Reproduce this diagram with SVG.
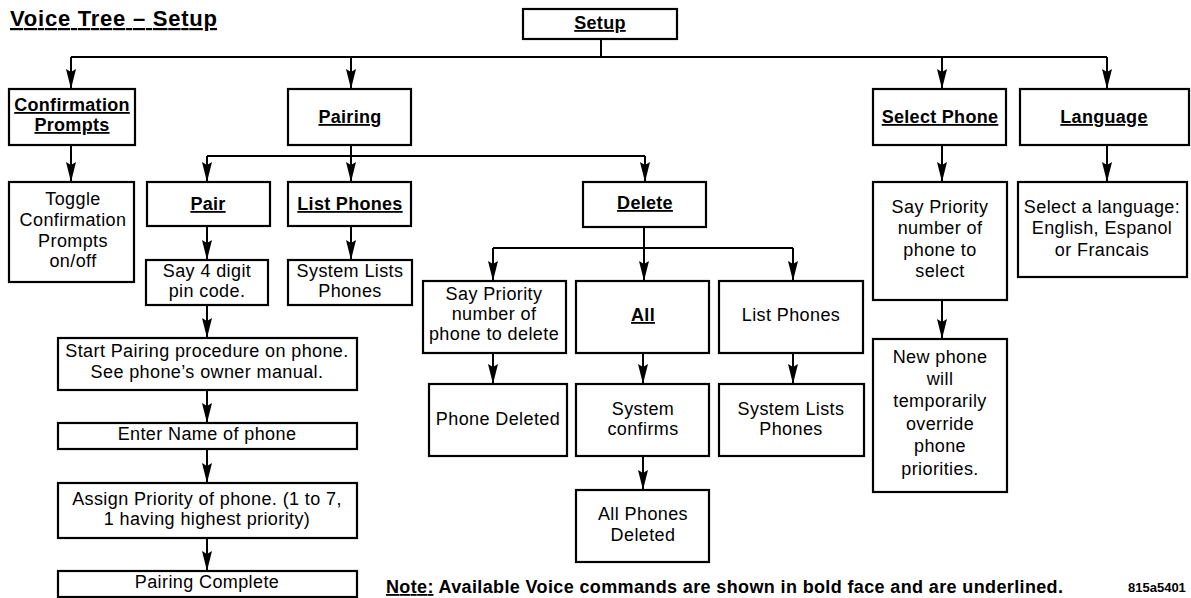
<svg xmlns="http://www.w3.org/2000/svg" width="1191" height="598" viewBox="0 0 1191 598">
<style>
.bx{fill:#fff;stroke:#000;stroke-width:2.2}
.t{font-family:"Liberation Sans",Arial,Helvetica,sans-serif;font-size:18px;letter-spacing:0.4px;fill:#000;text-anchor:middle}
.b{font-family:"Liberation Sans",Arial,Helvetica,sans-serif;font-size:18px;font-weight:bold;letter-spacing:0.3px;fill:#000;text-anchor:middle;text-decoration:underline}
.ln{fill:none;stroke:#000;stroke-width:2}
.ar{fill:none;stroke:#000;stroke-width:2;marker-end:url(#ah)}
</style>
<defs>
<marker id="ah" markerUnits="userSpaceOnUse" viewBox="0 0 20 10" refX="20" refY="5" markerWidth="20" markerHeight="10" orient="auto">
<path d="M0,0 L20,5 L0,10 L3,5 z" fill="#000"/>
</marker>
</defs>
<rect width="1191" height="598" fill="#fff"/>
<text x="10" y="26" font-family="Liberation Sans,Arial,sans-serif" font-size="22" font-weight="bold" text-decoration="underline" fill="#000" textLength="207" lengthAdjust="spacing">Voice Tree – Setup</text>

<g id="connectors">
<path class="ln" d="M601,39 V57 M71,57 H1107"/>
<path class="ar" d="M71,57 V89"/>
<path class="ar" d="M351,57 V89"/>
<path class="ar" d="M942,57 V89"/>
<path class="ar" d="M1107,57 V89"/>
<path class="ar" d="M71,145 V182"/>
<path class="ln" d="M351,145 V156 M207,156 H645"/>
<path class="ar" d="M207,156 V182"/>
<path class="ar" d="M351,156 V182"/>
<path class="ar" d="M645,156 V182"/>
<path class="ar" d="M942,145 V182"/>
<path class="ar" d="M1107,145 V182"/>
<path class="ar" d="M207,226 V260"/>
<path class="ar" d="M351,226 V260"/>
<path class="ar" d="M207,305 V338"/>
<path class="ar" d="M207,390 V423"/>
<path class="ar" d="M207,449 V483"/>
<path class="ar" d="M207,538 V571"/>
<path class="ln" d="M644,227 V248 M493,248 H793"/>
<path class="ar" d="M493,248 V281"/>
<path class="ar" d="M644,248 V281"/>
<path class="ar" d="M793,248 V281"/>
<path class="ar" d="M493,353 V384"/>
<path class="ar" d="M643,353 V384"/>
<path class="ar" d="M793,353 V384"/>
<path class="ar" d="M643,456 V490"/>
<path class="ar" d="M942,300 V339"/>
</g>

<g id="setup"><rect class="bx" x="523" y="9" width="154" height="30"/><text class="b" x="600" y="29">Setup</text></g>
<g id="confirmation"><rect class="bx" x="9" y="89" width="126" height="56"/><text class="b" x="72" y="111">Confirmation</text><text class="b" x="72" y="131">Prompts</text></g>
<g id="pairing"><rect class="bx" x="288" y="89" width="123" height="56"/><text class="b" x="350" y="123">Pairing</text></g>
<g id="selectphone"><rect class="bx" x="873" y="89" width="133" height="56"/><text class="b" x="940" y="123">Select Phone</text></g>
<g id="language"><rect class="bx" x="1020" y="89" width="169" height="56"/><text class="b" x="1104" y="123">Language</text></g>

<g id="toggle"><rect class="bx" x="9" y="182" width="125" height="100"/><text class="t" x="73"><tspan x="73" y="205">Toggle</tspan><tspan x="73" y="226">Confirmation</tspan><tspan x="73" y="247">Prompts</tspan><tspan x="73" y="267">on/off</tspan></text></g>
<g id="pair"><rect class="bx" x="147" y="182" width="123" height="44"/><text class="b" x="208" y="210">Pair</text></g>
<g id="listphones"><rect class="bx" x="288" y="182" width="123" height="44"/><text class="b" x="350" y="210">List Phones</text></g>
<g id="saypin"><rect class="bx" x="146" y="260" width="122" height="45"/><text class="t"><tspan x="207" y="277">Say 4 digit</tspan><tspan x="207" y="297">pin code.</tspan></text></g>
<g id="systemlists1"><rect class="bx" x="288" y="260" width="124" height="45"/><text class="t"><tspan x="350" y="277">System Lists</tspan><tspan x="350" y="297">Phones</tspan></text></g>
<g id="startpairing"><rect class="bx" x="58" y="338" width="299" height="52"/><text class="t"><tspan x="207" y="357">Start Pairing procedure on phone.</tspan><tspan x="207" y="378">See phone’s owner manual.</tspan></text></g>
<g id="entername"><rect class="bx" x="58" y="423" width="299" height="26"/><text class="t" x="207" y="440">Enter Name of phone</text></g>
<g id="assign"><rect class="bx" x="58" y="483" width="299" height="55"/><text class="t"><tspan x="207" y="505">Assign Priority of phone. (1 to 7,</tspan><tspan x="207" y="525">1 having highest priority)</tspan></text></g>
<g id="complete"><rect class="bx" x="58" y="571" width="299" height="26"/><text class="t" x="207" y="588">Pairing Complete</text></g>

<g id="delete"><rect class="bx" x="583" y="182" width="123" height="45"/><text class="b" x="645" y="209">Delete</text></g>
<g id="sayprioritydel"><rect class="bx" x="423" y="281" width="143" height="72"/><text class="t"><tspan x="494" y="300">Say Priority</tspan><tspan x="494" y="320">number of</tspan><tspan x="494" y="340">phone to delete</tspan></text></g>
<g id="all"><rect class="bx" x="576" y="281" width="133" height="72"/><text class="b" x="643" y="321">All</text></g>
<g id="listphones2"><rect class="bx" x="719" y="281" width="144" height="72"/><text class="t" x="791" y="321">List Phones</text></g>
<g id="phonedeleted"><rect class="bx" x="429" y="384" width="138" height="72"/><text class="t" x="498" y="425">Phone Deleted</text></g>
<g id="systemconfirms"><rect class="bx" x="576" y="384" width="133" height="72"/><text class="t"><tspan x="643" y="415">System</tspan><tspan x="643" y="435">confirms</tspan></text></g>
<g id="systemlists2"><rect class="bx" x="719" y="384" width="145" height="72"/><text class="t"><tspan x="791" y="415">System Lists</tspan><tspan x="791" y="435">Phones</tspan></text></g>
<g id="allphonesdeleted"><rect class="bx" x="576" y="490" width="133" height="72"/><text class="t"><tspan x="643" y="520">All Phones</tspan><tspan x="643" y="541">Deleted</tspan></text></g>

<g id="saypriorityselect"><rect class="bx" x="873" y="182" width="134" height="118"/><text class="t"><tspan x="940" y="213">Say Priority</tspan><tspan x="940" y="234">number of</tspan><tspan x="940" y="256">phone to</tspan><tspan x="940" y="277">select</tspan></text></g>
<g id="newphone"><rect class="bx" x="873" y="339" width="134" height="153"/><text class="t"><tspan x="940" y="363">New phone</tspan><tspan x="940" y="385">will</tspan><tspan x="940" y="407">temporarily</tspan><tspan x="940" y="430">override</tspan><tspan x="940" y="452">phone</tspan><tspan x="940" y="475">priorities.</tspan></text></g>
<g id="selectlanguage"><rect class="bx" x="1018" y="182" width="169" height="95"/><text class="t"><tspan x="1102" y="213">Select a language:</tspan><tspan x="1102" y="234">English, Espanol</tspan><tspan x="1102" y="256">or Francais</tspan></text></g>

<text x="386" y="593" font-family="Liberation Sans,Arial,sans-serif" font-size="18" font-weight="bold" fill="#000" textLength="677" lengthAdjust="spacing"><tspan text-decoration="underline">Note:</tspan> Available Voice commands are shown in bold face and are underlined.</text>
<text x="1128" y="592" font-family="Liberation Sans,Arial,sans-serif" font-size="13" font-weight="bold" fill="#000">815a5401</text>
</svg>
